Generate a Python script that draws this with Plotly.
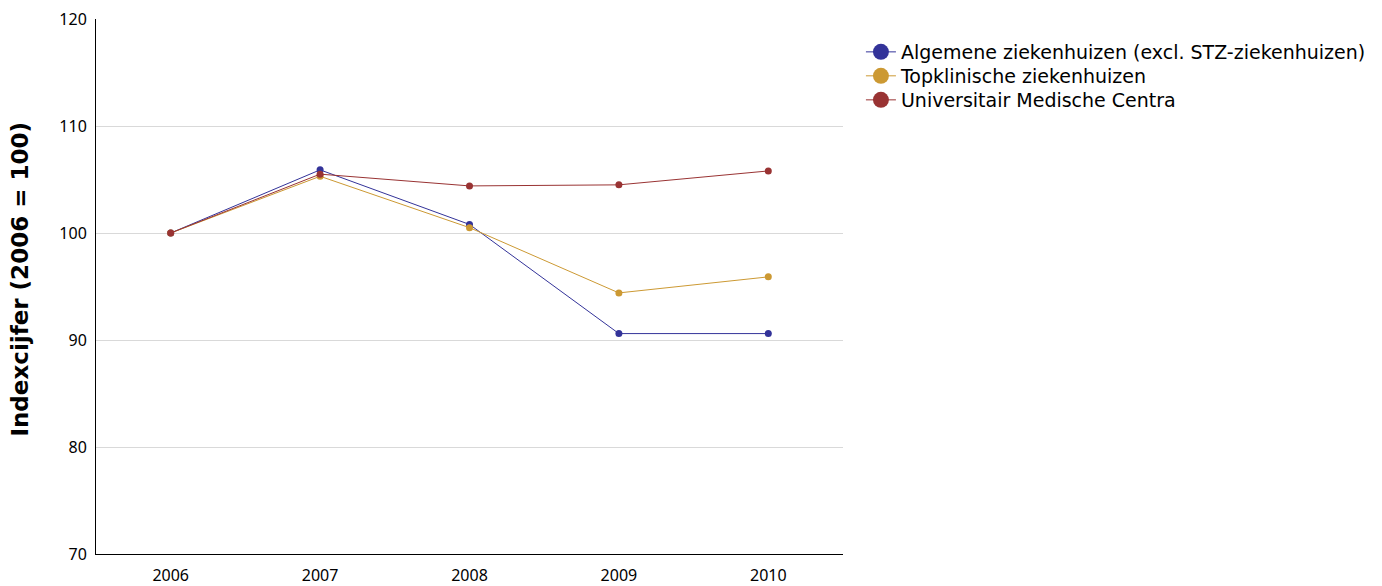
import plotly.graph_objects as go

years = ["2006", "2007", "2008", "2009", "2010"]
algemene = [100.0, 105.9, 100.8, 90.6, 90.6]
topklinisch = [100.0, 105.3, 100.5, 94.4, 95.9]
umc = [100.0, 105.5, 104.4, 104.5, 105.8]

series_names = [
    "Algemene ziekenhuizen (excl. STZ-ziekenhuizen)",
    "Topklinische ziekenhuizen",
    "Universitair Medische Centra",
]
series_values = [algemene, topklinisch, umc]
colors = ["#333399", "#CC9933", "#993333"]

y_ticks = [70, 80, 90, 100, 110, 120]
y_title = "Indexcijfer (2006 = 100)"

legend_font = "DejaVu Sans, Verdana, sans-serif"
tick_font = "Noto Sans, Segoe UI, sans-serif"

fig = go.Figure()
for name, vals, col in zip(series_names, series_values, colors):
    fig.add_trace(go.Scatter(
        x=years, y=vals, name=name, mode="lines+markers",
        line=dict(color=col, width=1),
        marker=dict(color=col, size=7),
        showlegend=False,
    ))

legend_ids = ["legend", "legend2", "legend3"]
legend_rows_y = [0.9383, 0.8935, 0.8486]
for name, col, lid in zip(series_names, colors, legend_ids):
    fig.add_trace(go.Scatter(
        x=[None], y=[None], name=name, mode="lines+markers",
        line=dict(color=col, width=1),
        marker=dict(color=col, size=16),
        showlegend=True, legend=lid,
    ))

legend_common = dict(
    x=1.024, xanchor="left", yanchor="middle",
    font=dict(family=legend_font, size=19, color="#000000"),
    itemsizing="trace", itemwidth=30,
    bgcolor="rgba(0,0,0,0)",
)

layout_legends = {}
for lid, ly in zip(legend_ids, legend_rows_y):
    layout_legends[lid] = dict(legend_common, y=ly)

fig.update_layout(
    width=1374, height=578,
    margin=dict(l=88, r=539, t=11, b=32, autoexpand=False),
    paper_bgcolor="white", plot_bgcolor="white",
    font=dict(family=tick_font, size=16, color="#000000"),
    showlegend=True,
    xaxis=dict(
        type="category", range=[-0.5, 4.5],
        showline=True, linecolor="#000000", linewidth=1,
        showgrid=False, ticks="outside", ticklen=7, tickcolor="rgba(0,0,0,0)",
        tickfont=dict(family=tick_font, size=16),
    ),
    yaxis=dict(
        range=[70, 120.0005], tickvals=y_ticks,
        showline=True, linecolor="#000000", linewidth=1,
        showgrid=True, gridcolor="#d9d9d9", gridwidth=1,
        zeroline=False, ticks="outside", ticklen=5, tickcolor="rgba(0,0,0,0)",
        tickfont=dict(family=tick_font, size=16),
        ticklabeloverflow="allow",
        automargin=False,
    ),
    annotations=[dict(
        text="<b>" + y_title + "</b>", textangle=-90,
        xref="paper", yref="paper", x=-0.1017, y=0.513,
        xanchor="center", yanchor="middle", showarrow=False,
        font=dict(family=legend_font, size=23, color="#000000"),
    )],
    **layout_legends,
)

fig.write_html("out.html")
